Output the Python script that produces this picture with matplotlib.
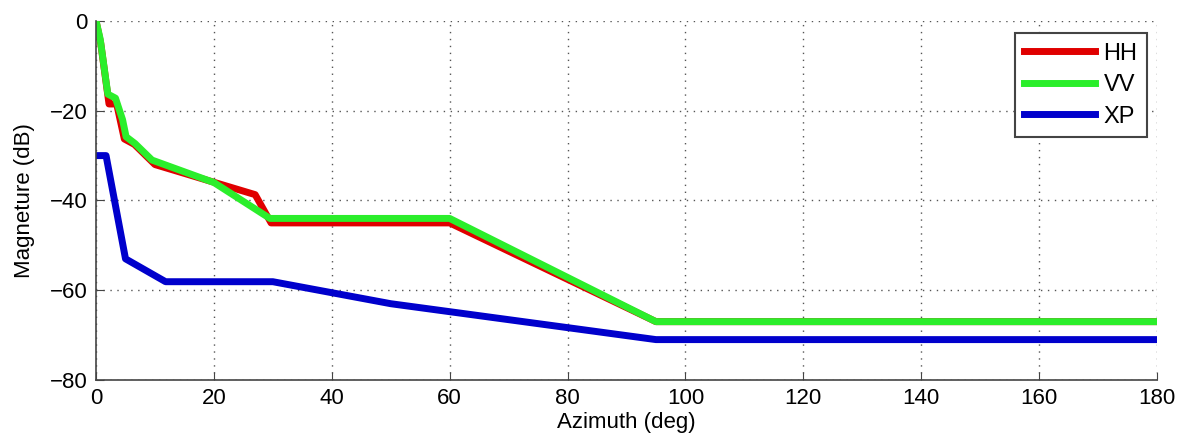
import numpy as np
import matplotlib
matplotlib.use('Agg')
import matplotlib.pyplot as plt

plt.rcParams['font.family'] = ['Liberation Sans', 'DejaVu Sans']

# azimuth (deg) / magnitude (dB) break points
hh_az = [0, 0.8, 2.2, 3.5, 4.8, 6.5, 10, 27, 29.7, 60, 95, 180]
hh_db = [0, -5, -18.5, -18.5, -26.3, -27.5, -32, -38.7, -45, -45, -67, -67]

vv_az = [0, 0.7, 2.0, 3.3, 4.5, 5.1, 6.6, 9.5, 20, 29.5, 60, 95, 180]
vv_db = [0, -4, -16.3, -17.2, -22, -25.8, -27.3, -31, -36, -44, -44, -67, -67]

xp_az = [0, 1.7, 5.0, 11.8, 30, 50, 95, 180]
xp_db = [-30, -30, -53, -58.1, -58.1, -63, -71, -71]

fig = plt.figure(figsize=(11.96, 4.46), dpi=100)
ax = fig.add_axes([0.0803, 0.148, 0.887, 0.805])

ax.plot(hh_az, hh_db, color='#e00000', lw=5, label='HH', solid_joinstyle='round')
ax.plot(vv_az, vv_db, color='#2bee2b', lw=5, label='VV', solid_joinstyle='round')
ax.plot(xp_az, xp_db, color='#0000cc', lw=5, label='XP', solid_joinstyle='round')

ax.set_xlim(0, 180)
ax.set_ylim(-80, 0)
ax.set_xticks(np.arange(0, 181, 20))
ax.set_yticks(np.arange(-80, 1, 20))
ax.tick_params(direction='in', length=6, color='#444444', labelsize=16, pad=6)
ax.grid(True, linestyle=(0, (1, 4)), color='#555555', linewidth=1)
ax.spines['top'].set_visible(False)
ax.spines['right'].set_visible(False)
for s in ['left', 'bottom']:
    ax.spines[s].set_color('#444444')
    ax.spines[s].set_linewidth(1.2)

ax.set_xlabel('Azimuth (deg)', fontsize=16, labelpad=2)
ax.set_ylabel('Magneture (dB)', fontsize=16, labelpad=11)

leg = ax.legend(loc='upper right', bbox_to_anchor=(0.9906, 0.966), borderaxespad=0,
                fontsize=17, fancybox=False, framealpha=1, edgecolor='#444444',
                handlelength=3.0, handletextpad=0.35, borderpad=0.4, labelspacing=0.4)
leg.get_frame().set_linewidth(1.5)

fig.savefig('out.png', dpi=100)
